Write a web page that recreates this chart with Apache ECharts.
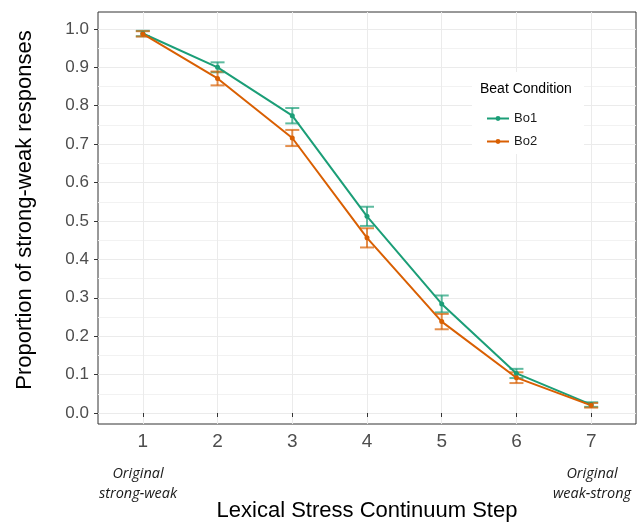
<!DOCTYPE html>
<html>
<head>
<meta charset="utf-8">
<script src="https://cdn.jsdelivr.net/npm/echarts@6/dist/echarts.min.js"></script>
<style>
  html, body { margin: 0; padding: 0; background: #fff; }
  #chart { width: 638px; height: 524px; }
</style>
</head>
<body>
<div id="chart"></div>
<script>
  // data
  const steps = [1, 2, 3, 4, 5, 6, 7]
  const bo1 = [0.988, 0.900, 0.774, 0.512, 0.284, 0.103, 0.022]
  const bo1Err = [0.007, 0.013, 0.020, 0.025, 0.022, 0.012, 0.006]
  const bo2 = [0.987, 0.871, 0.716, 0.456, 0.238, 0.092, 0.020]
  const bo2Err = [0.007, 0.018, 0.021, 0.025, 0.020, 0.014, 0.006]
  const yTicks = [0, 0.1, 0.2, 0.3, 0.4, 0.5, 0.6, 0.7, 0.8, 0.9, 1.0]
  const yMinor = [0.05, 0.15, 0.25, 0.35, 0.45, 0.55, 0.65, 0.75, 0.85, 0.95]

  const teal = '#1B9E77'
  const orange = '#D95F02'
  const font = 'Liberation Sans, Arial, sans-serif'

  const chart = echarts.init(document.getElementById('chart'))

  function errorBars (name, means, errs, color) {
    return {
      name: name + ' se',
      type: 'custom',
      silent: true,
      z: 3,
      itemStyle: { color: color },
      data: steps.map((s, i) => [s, means[i] - errs[i], means[i] + errs[i]]),
      renderItem (params, api) {
        const lo = api.coord([api.value(0), api.value(1)])
        const hi = api.coord([api.value(0), api.value(2)])
        const w = 7
        const style = { stroke: color, lineWidth: 2, opacity: 0.7 }
        return {
          type: 'group',
          children: [
            { type: 'line', shape: { x1: lo[0], y1: lo[1], x2: hi[0], y2: hi[1] }, style },
            { type: 'line', shape: { x1: lo[0] - w, y1: lo[1], x2: lo[0] + w, y2: lo[1] }, style },
            { type: 'line', shape: { x1: hi[0] - w, y1: hi[1], x2: hi[0] + w, y2: hi[1] }, style }
          ]
        }
      }
    }
  }

  function lineSeries (name, means, color) {
    return {
      name: name,
      type: 'line',
      z: 4,
      data: steps.map((s, i) => [s, means[i]]),
      symbol: 'circle',
      symbolSize: 5,
      itemStyle: { color: color },
      lineStyle: { color: color, width: 2 }
    }
  }

  const option = {
    animation: false,
    backgroundColor: '#fff',
    textStyle: { fontFamily: font },
    grid: {
      left: 98, right: 2, top: 12, bottom: 100,
      show: true, borderColor: '#333', borderWidth: 1, backgroundColor: 'transparent'
    },
    xAxis: {
      type: 'value',
      min: 0.4,
      max: 7.6,
      axisLine: { show: false },
      axisTick: { show: true, length: 4, inside: false, customValues: steps, lineStyle: { color: '#333' } },
      axisLabel: { customValues: steps, fontSize: 19, color: '#4D4D4D', margin: 8, fontFamily: font },
      splitLine: { show: true, lineStyle: { color: '#EBEBEB', width: 1 } }
    },
    yAxis: [{
      type: 'value',
      min: -0.0286,
      max: 1.044,
      axisLine: { show: false },
      axisTick: { show: true, length: 4, customValues: yTicks, lineStyle: { color: '#333' } },
      axisLabel: {
        customValues: yTicks, fontSize: 17, color: '#4D4D4D', margin: 9, fontFamily: font,
        formatter: v => v.toFixed(1)
      },
      splitLine: { show: true, lineStyle: { color: '#EBEBEB', width: 1 } }
    }, {
      type: 'value',
      min: -0.0286,
      max: 1.044,
      position: 'left',
      axisLine: { show: false },
      axisTick: { show: false, customValues: yMinor },
      axisLabel: { show: false, customValues: yMinor },
      splitLine: { show: true, lineStyle: { color: '#F2F2F2', width: 1 } }
    }],
    legend: {
      orient: 'vertical',
      left: 481,
      top: 107,
      itemWidth: 22,
      itemHeight: 6,
      itemGap: 10,
      data: ['Bo1', 'Bo2'],
      textStyle: { fontSize: 13, color: '#1a1a1a', fontFamily: font },
      z: 6
    },
    graphic: [
      { type: 'rect', z: 1, shape: { x: 472, y: 72, width: 112, height: 82 }, style: { fill: '#fff' } },
      { type: 'text', z: 7, x: 480, y: 89, style: { text: 'Beat Condition', font: '14px ' + font, fill: '#000', textVerticalAlign: 'middle' } },
      { type: 'text', x: 25, y: 210, rotation: Math.PI / 2, style: { text: 'Proportion of strong-weak responses', font: '22px ' + font, fill: '#000', textAlign: 'center', textVerticalAlign: 'middle' } },
      { type: 'text', x: 367, y: 511, style: { text: 'Lexical Stress Continuum Step', font: '22px ' + font, fill: '#000', textAlign: 'center', textVerticalAlign: 'middle' } },
      { type: 'text', x: 138, y: 484, style: { text: 'Original\nstrong-weak', font: 'italic 14.5px Open Sans, sans-serif', fill: '#1a1a1a', textAlign: 'center', textVerticalAlign: 'middle', lineHeight: 20 } },
      { type: 'text', x: 592, y: 484, style: { text: 'Original\nweak-strong', font: 'italic 14.5px Open Sans, sans-serif', fill: '#1a1a1a', textAlign: 'center', textVerticalAlign: 'middle', lineHeight: 20 } }
    ],
    series: [
      errorBars('Bo1', bo1, bo1Err, teal),
      errorBars('Bo2', bo2, bo2Err, orange),
      lineSeries('Bo1', bo1, teal),
      lineSeries('Bo2', bo2, orange)
    ]
  }

  chart.setOption(option)
</script>
</body>
</html>
